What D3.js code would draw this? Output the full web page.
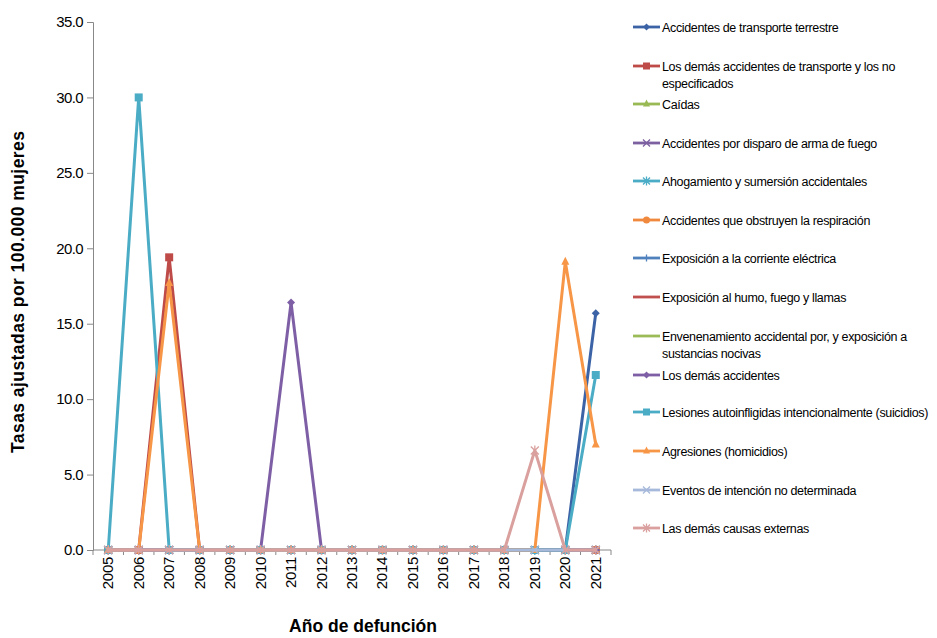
<!DOCTYPE html>
<html><head><meta charset="utf-8">
<script src="https://cdn.jsdelivr.net/npm/d3@7"></script>
<style>
body{margin:0;background:#fff;}
text{font-family:"Liberation Sans",Arial,sans-serif;fill:#000;}
</style></head>
<body><svg id="c" width="937" height="638"></svg>
<script>
const years = ["2005","2006","2007","2008","2009","2010","2011","2012","2013","2014","2015","2016","2017","2018","2019","2020","2021"];
const yTicks = [0,5,10,15,20,25,30,35];
const seriesNames = [
 "Accidentes de transporte terrestre",
 "Los demás accidentes de transporte y los no especificados",
 "Caídas",
 "Accidentes por disparo de arma de fuego",
 "Ahogamiento y sumersión accidentales",
 "Accidentes que obstruyen la respiración",
 "Exposición a la corriente eléctrica",
 "Exposición al humo, fuego y llamas",
 "Envenenamiento accidental por, y exposición a sustancias nocivas",
 "Los demás accidentes",
 "Lesiones autoinfligidas intencionalmente (suicidios)",
 "Agresiones (homicidios)",
 "Eventos de intención no determinada",
 "Las demás causas externas"
];
const legendLines = [
 ["Accidentes de transporte terrestre"],
 ["Los demás accidentes de transporte y los no","especificados"],
 ["Caídas"],
 ["Accidentes por disparo de arma de fuego"],
 ["Ahogamiento y sumersión accidentales"],
 ["Accidentes que obstruyen la respiración"],
 ["Exposición a la corriente eléctrica"],
 ["Exposición al humo, fuego y llamas"],
 ["Envenenamiento accidental por, y exposición a","sustancias nocivas"],
 ["Los demás accidentes"],
 ["Lesiones autoinfligidas intencionalmente (suicidios)"],
 ["Agresiones (homicidios)"],
 ["Eventos de intención no determinada"],
 ["Las demás causas externas"]
];
const transporteTerrestre = [0,0,0,0,0,0,0,0,0,0,0,0,0,0,0,0,15.7];
const demasTransporte     = [0,0,19.4,0,0,0,0,0,0,0,0,0,0,0,0,0,0];
const caidas              = [0,0,0,0,0,0,0,0,0,0,0,0,0,0,0,0,0];
const armaFuego           = [0,0,0,0,0,0,0,0,0,0,0,0,0,0,0,0,0];
const ahogamiento         = [0,0,0,0,0,0,0,0,0,0,0,0,0,0,0,0,0];
const obstruyen           = [0,0,0,0,0,0,0,0,0,0,0,0,0,0,0,0,0];
const corriente           = [0,0,0,0,0,0,0,0,0,0,0,0,0,0,0,0,0];
const humo                = [0,0,0,0,0,0,0,0,0,0,0,0,0,0,0,0,0];
const envenenamiento      = [0,0,0,0,0,0,0,0,0,0,0,0,0,0,0,0,0];
const demasAccidentes     = [0,0,0,0,0,0,16.4,0,0,0,0,0,0,0,0,0,0];
const suicidios           = [0,30.0,0,0,0,0,0,0,0,0,0,0,0,0,0,0,11.6];
const homicidios          = [0,0,17.7,0,0,0,0,0,0,0,0,0,0,0,0,19.1,7.0];
const noDeterminada       = [0,0,0,0,0,0,0,0,0,0,0,0,0,0,0,0,0];
const demasCausas         = [0,0,0,0,0,0,0,0,0,0,0,0,0,0,6.6,0,0];
const seriesValues = [transporteTerrestre,demasTransporte,caidas,armaFuego,ahogamiento,obstruyen,corriente,humo,envenenamiento,demasAccidentes,suicidios,homicidios,noDeterminada,demasCausas];
const colors = ["#3B63A6","#BE4B48","#98B954","#7D60A0","#4BACC6","#F0883E","#4F81BD","#C0504D","#9BBB59","#7E5FA6","#4BACC6","#F79646","#A7B9DB","#D9A09E"];
const markers = ["diamond","square","triangle","x","star","circle","plus","none","none","diamond","square","triangle","x","star"];

const svg = d3.select("#c");
const x = d3.scaleBand().domain(years).range([93,611]);
const y = d3.scaleLinear().domain([0,35]).range([550,22]);
const cx = d => x(d) + x.bandwidth()/2;

// Axes
const yAxis = d3.axisLeft(y).tickValues(yTicks).tickFormat(d3.format(".1f")).tickSize(6).tickPadding(4);
const gy = svg.append("g").attr("transform","translate(93,0)").call(yAxis);
gy.selectAll("path,line").attr("stroke","#888");
gy.selectAll("text").attr("font-size",15).attr("fill","#000").attr("letter-spacing","-0.6")
  .style("font-family","'Liberation Sans',Arial,sans-serif");

const gx = svg.append("g").attr("transform","translate(0,550)");
gx.append("line").attr("x1",93).attr("x2",611).attr("stroke","#888");
const bounds = years.map(d=>x(d)).concat([611]);
gx.selectAll("line.t").data(bounds).enter().append("line").attr("class","t")
  .attr("x1",d=>d).attr("x2",d=>d).attr("y1",0).attr("y2",5).attr("stroke","#888");
gx.selectAll("text").data(years).enter().append("text")
  .attr("transform",d=>`translate(${cx(d)+5},${7}) rotate(-90)`)
  .attr("text-anchor","end").attr("font-size",15).attr("letter-spacing","-0.3").text(d=>d);

// Titles
svg.append("text").attr("x",363).attr("y",632).attr("text-anchor","middle")
  .attr("font-size",17.5).attr("font-weight","bold").text("Año de defunción");
svg.append("text").attr("transform","translate(24,292) rotate(-90)").attr("text-anchor","middle")
  .attr("font-size",17.5).attr("font-weight","bold").attr("textLength",322).attr("lengthAdjust","spacing")
  .text("Tasas ajustadas por 100.000 mujeres");

const line = d3.line().x((d,i)=>cx(years[i])).y(d=>y(d));

function drawMarker(g, type, px, py, color, s){
  s = s||4;
  if(type==="diamond"){
    g.append("path").attr("d",`M${px},${py-s}L${px+s},${py}L${px},${py+s}L${px-s},${py}Z`).attr("fill",color);
  } else if(type==="square"){
    g.append("rect").attr("x",px-s).attr("y",py-s).attr("width",2*s).attr("height",2*s).attr("fill",color);
  } else if(type==="triangle"){
    g.append("path").attr("d",`M${px},${py-s-1}L${px+s},${py+s-1}L${px-s},${py+s-1}Z`).attr("fill",color);
  } else if(type==="circle"){
    g.append("circle").attr("cx",px).attr("cy",py).attr("r",s).attr("fill",color);
  } else if(type==="x"){
    g.append("path").attr("d",`M${px-s},${py-s}L${px+s},${py+s}M${px-s},${py+s}L${px+s},${py-s}`).attr("stroke",color).attr("stroke-width",1.3);
  } else if(type==="star"){
    g.append("path").attr("d",`M${px-s},${py-s}L${px+s},${py+s}M${px-s},${py+s}L${px+s},${py-s}M${px},${py-s-1}L${px},${py+s+1}`).attr("stroke",color).attr("stroke-width",1.3);
  } else if(type==="plus"){
    g.append("path").attr("d",`M${px-s},${py}L${px+s},${py}M${px},${py-s}L${px},${py+s}`).attr("stroke",color).attr("stroke-width",1.3);
  }
}

// Series
seriesValues.forEach((vals,k)=>{
  const g = svg.append("g");
  g.append("path").datum(vals).attr("d",line).attr("fill","none")
    .attr("stroke",colors[k]).attr("stroke-width",3).attr("stroke-linejoin","round");
  if(markers[k]!=="none"){
    vals.forEach((v,i)=>drawMarker(g,markers[k],cx(years[i]),y(v),colors[k],4));
  }
});

// Legend
const lg = svg.append("g");
const rowY = [27,66,104,143,181,220,258,297,336,375,412,451,490,528];
legendLines.forEach((lines,k)=>{
  const ry = rowY[k];
  lg.append("line").attr("x1",633).attr("x2",660).attr("y1",ry).attr("y2",ry)
    .attr("stroke",colors[k]).attr("stroke-width",2.8);
  if(markers[k]!=="none") drawMarker(lg,markers[k],646.5,ry,colors[k],3.5);
  lines.forEach((t,j)=>{
    lg.append("text").attr("x",662).attr("y",ry+4.5+j*17).attr("font-size",12.5)
      .attr("letter-spacing","-0.35").text(t);
  });
});
</script></body></html>
